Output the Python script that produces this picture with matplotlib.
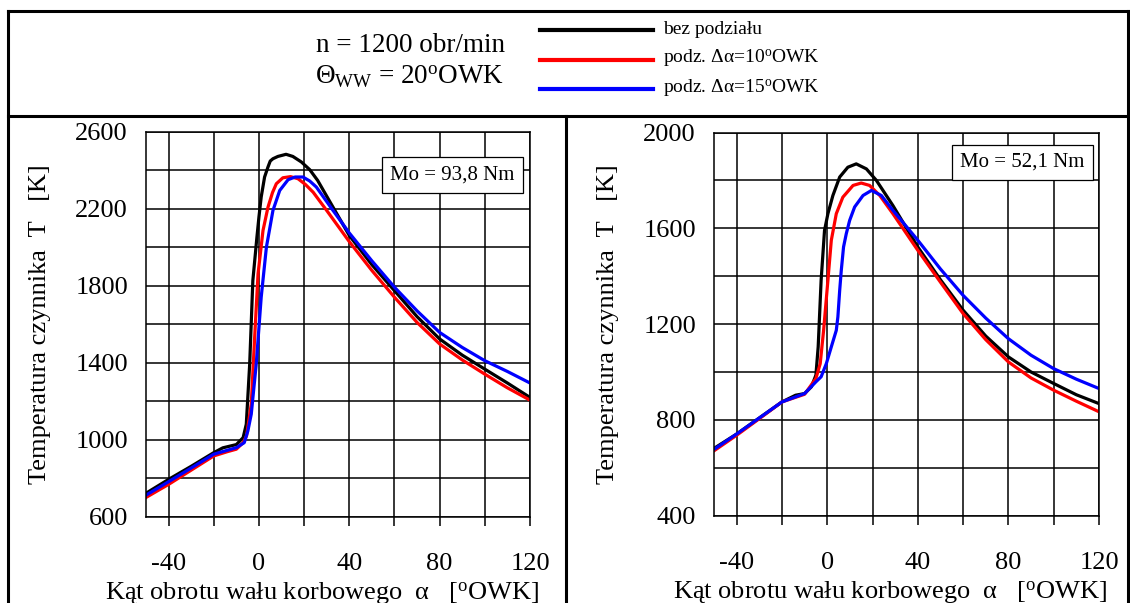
import matplotlib.pyplot as plt
from matplotlib.lines import Line2D
from matplotlib.ticker import MultipleLocator, FixedLocator

plt.rcParams['font.family'] = ['Liberation Serif', 'DejaVu Serif']
plt.rcParams['mathtext.fontset'] = 'custom'
plt.rcParams['mathtext.rm'] = 'Liberation Serif'
plt.rcParams['mathtext.it'] = 'Liberation Serif:italic'
plt.rcParams['axes.unicode_minus'] = False

# Dane - lewy wykres (Mo = 93,8 Nm)
kat_l_bez = [-50, -40, -30, -20, -16, -10, -7, -5.6, -4.1, -2.7, -0.9, 0, 1, 2.5, 4, 5, 6.2, 8.4, 12, 15, 18.8, 22.5, 26, 40, 50, 60, 70, 80, 90, 100, 110, 120]
T_l_bez = [722, 794, 862, 933, 958, 975, 1011, 1081, 1393, 1827, 2053, 2158, 2262, 2366, 2418, 2449, 2461, 2473, 2484, 2473, 2444, 2404, 2348, 2062, 1910, 1775, 1640, 1524, 1440, 1367, 1295, 1220]
kat_l_10 = [-50, -40, -30, -20, -14, -10, -7, -5.5, -3.4, -1.9, -0.4, 1.8, 4, 6, 7.7, 10.6, 14, 17.3, 20.5, 24, 30, 40, 50, 60, 70, 80, 90, 100, 110, 120]
T_l_10 = [700, 768, 842, 916, 938, 951, 985, 1020, 1185, 1532, 1862, 2088, 2209, 2285, 2331, 2362, 2368, 2357, 2328, 2287, 2192, 2030, 1880, 1741, 1610, 1498, 1415, 1341, 1270, 1206]
kat_l_15 = [-50, -40, -30, -20, -10, -6.5, -4.9, -3.4, -1.2, 1, 3.3, 6.2, 9.2, 12.9, 16, 19.5, 22.5, 25.4, 32.8, 40, 50, 60, 70, 80, 90, 100, 110, 120]
T_l_15 = [712, 782, 853, 925, 959, 985, 1046, 1133, 1393, 1741, 2001, 2192, 2296, 2352, 2366, 2366, 2345, 2314, 2192, 2075, 1930, 1793, 1670, 1558, 1480, 1411, 1355, 1295]

# Dane - prawy wykres (Mo = 52,1 Nm)
kat_p_bez = [-50, -40, -30, -20, -14, -10, -7, -5, -4, -2.7, -1.2, 0.3, 2.5, 5.5, 9.1, 12.8, 17.3, 21.7, 29, 40, 50, 60, 70, 80, 90, 100, 110, 120]
T_p_bez = [681, 741, 808, 875, 903, 910, 938, 987, 1105, 1383, 1591, 1661, 1737, 1814, 1855, 1869, 1848, 1800, 1695, 1522, 1385, 1258, 1150, 1063, 1000, 952, 905, 868]
kat_p_10 = [-50, -40, -30, -20, -10, -5, -3.1, -1.6, 0.3, 1.8, 4, 6.9, 11.4, 15, 18.7, 23.2, 29, 40, 50, 60, 70, 80, 90, 100, 110, 120]
T_p_10 = [671, 736, 805, 875, 907, 973, 1035, 1174, 1383, 1550, 1661, 1730, 1779, 1789, 1779, 1737, 1661, 1508, 1375, 1244, 1135, 1042, 975, 924, 878, 834]
kat_p_15 = [-50, -40, -30, -20, -10, -5, -2.7, -0.4, 1.8, 4, 4.7, 5.5, 6.2, 7.2, 8.4, 9.9, 12.1, 15.8, 19.5, 23.9, 29, 40, 50, 60, 70, 80, 90, 100, 110, 120]
T_p_15 = [677, 741, 808, 875, 910, 959, 980, 1035, 1105, 1174, 1230, 1341, 1424, 1522, 1577, 1633, 1689, 1737, 1758, 1737, 1675, 1550, 1430, 1320, 1225, 1139, 1070, 1014, 970, 931]

etykiety = ["bez podziału", r"podz. Δα=10$^{\rm o}$OWK", r"podz. Δα=15$^{\rm o}$OWK"]
kolory = ["black", "red", "blue"]

W, H = 1130, 603
fig = plt.figure(figsize=(W / 100, H / 100), dpi=100)


def px(x0, y0, x1, y1):
    # prostokat w pikselach -> wspolrzedne figury
    return [x0 / W, 1 - y1 / H, (x1 - x0) / W, (y1 - y0) / H]


def rysuj(ax, dane, ylim, mo_txt, mo_pos):
    for (k, t), c in zip(dane, kolory):
        ax.plot(k, t, color=c, lw=2.3, solid_joinstyle='round')
    ax.set_xlim(-50, 120)
    ax.set_ylim(*ylim)
    ax.xaxis.set_major_locator(FixedLocator([-40, 0, 40, 80, 120]))
    ax.xaxis.set_minor_locator(FixedLocator([-20, 20, 60, 100]))
    ax.yaxis.set_major_locator(FixedLocator(list(range(ylim[0], ylim[1] + 1, 400))))
    ax.yaxis.set_minor_locator(MultipleLocator(200))
    ax.grid(True, which='both', color='black', lw=1.1)
    ax.tick_params(axis='x', which='both', direction='out', length=6.5, width=1.1,
                   labelsize=19, pad=19.5)
    ax.tick_params(axis='y', which='both', length=0, labelsize=19, pad=13)
    for s in ax.spines.values():
        s.set_linewidth(1.1)
    ax.set_xlabel(r"Kąt obrotu wału korbowego  α   [$^{\rm o}$OWK]", fontsize=19, va='baseline')
    ax.xaxis.set_label_coords(0.458, -0.2165)
    ax.set_ylabel("Temperatura czynnika  T   [K]", fontsize=19, va='center')
    ax.yaxis.set_label_coords(-0.276, 0.5)
    ax.text(mo_pos[0], mo_pos[1], mo_txt, transform=ax.transAxes, fontsize=15,
            ha='center', va='center',
            bbox=dict(boxstyle='square,pad=0.4', fc='white', ec='black', lw=0.9))


ax1 = fig.add_axes(px(146, 132, 530, 516.7))
rysuj(ax1, [(kat_l_bez, T_l_bez), (kat_l_10, T_l_10), (kat_l_15, T_l_15)],
      (600, 2600), "Mo = 93,8 Nm", (0.797, 0.888))

ax2 = fig.add_axes(px(714, 132.5, 1099, 515.7))
rysuj(ax2, [(kat_p_bez, T_p_bez), (kat_p_10, T_p_10), (kat_p_15, T_p_15)],
      (400, 2000), "Mo = 52,1 Nm", (0.801, 0.922))


def linia(x0, y0, x1, y1, lw=2.2, color='black'):
    fig.add_artist(Line2D([x0 / W, x1 / W], [1 - y0 / H, 1 - y1 / H],
                          transform=fig.transFigure, color=color, lw=lw))


# ramka
linia(8, 11, 1128, 11)
linia(8, 11, 8, 603)
linia(1128, 11, 1128, 603)
linia(8, 116, 1128, 116)
linia(566, 116, 566, 603)

# naglowek
fig.text(410 / W, 1 - 45 / H, "n = 1200 obr/min", fontsize=19.5, ha='center', va='center')
fig.text(410 / W, 1 - 77 / H, r"$\Theta_{\rm WW}$ = 20$^{\rm o}$OWK", fontsize=19.5,
         ha='center', va='center')

# legenda
for i, (lab, c) in enumerate(zip(etykiety, kolory)):
    y = 30 + i * 29.5
    linia(540, y, 653, y, lw=3.0, color=c)
    fig.text(663 / W, 1 - (y - 1) / H, lab, fontsize=14, ha='left', va='center')

fig.savefig("out.png", dpi=100)
